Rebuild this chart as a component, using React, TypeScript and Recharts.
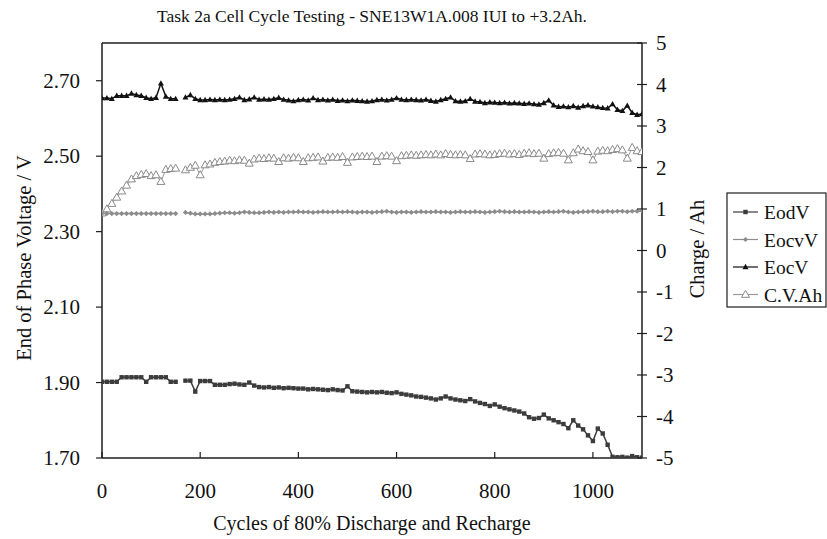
import React from "react";
import { ComposedChart, Line, XAxis, YAxis, ReferenceLine } from "recharts";

const cycles = [
  0, 10, 20, 30, 40, 50, 60, 70, 80, 90,
  100, 110, 120, 130, 140, 150, 160, 170, 180, 190,
  200, 210, 220, 230, 240, 250, 260, 270, 280, 290,
  300, 310, 320, 330, 340, 350, 360, 370, 380, 390,
  400, 410, 420, 430, 440, 450, 460, 470, 480, 490,
  500, 510, 520, 530, 540, 550, 560, 570, 580, 590,
  600, 610, 620, 630, 640, 650, 660, 670, 680, 690,
  700, 710, 720, 730, 740, 750, 760, 770, 780, 790,
  800, 810, 820, 830, 840, 850, 860, 870, 880, 890,
  900, 910, 920, 930, 940, 950, 960, 970, 980, 990,
  1000, 1010, 1020, 1030, 1040, 1050, 1060, 1070, 1080, 1090, 1100,
];

const eodV = [
  1.902, 1.902, 1.902, 1.902, 1.914, 1.914, 1.914, 1.914, 1.914, 1.902,
  1.914, 1.914, 1.914, 1.914, 1.902, 1.902, null, 1.905, 1.905, 1.876,
  1.904, 1.904, 1.904, 1.894, 1.894, 1.894, 1.896, 1.897, 1.895, 1.894,
  1.9, 1.892, 1.888, 1.887, 1.888, 1.886, 1.887, 1.885, 1.886, 1.885,
  1.884, 1.884, 1.882, 1.883, 1.882, 1.881, 1.88, 1.882, 1.88, 1.879,
  1.89, 1.877, 1.876, 1.875, 1.874, 1.875, 1.874, 1.875, 1.873, 1.872,
  1.874, 1.87, 1.868, 1.866, 1.863, 1.862, 1.86, 1.858, 1.855, 1.858,
  1.863, 1.858, 1.855, 1.853, 1.851, 1.856, 1.85, 1.846, 1.843, 1.838,
  1.842, 1.836, 1.832, 1.829, 1.826, 1.823, 1.818, 1.808, 1.804, 1.806,
  1.815, 1.805, 1.8, 1.795, 1.79, 1.779, 1.8, 1.786, 1.776, 1.76,
  1.745, 1.778, 1.765, 1.735, 1.703, 1.702, 1.703, 1.701, 1.705, 1.702, 1.701,
];

const eocvV = [
  2.348, 2.348, 2.348, 2.348, 2.348, 2.348, 2.348, 2.348, 2.348, 2.348,
  2.348, 2.348, 2.348, 2.348, 2.348, 2.348, null, 2.351, 2.349, 2.347,
  2.347, 2.347, 2.347, 2.348, 2.349, 2.35, 2.35, 2.349, 2.35, 2.352,
  2.351, 2.35, 2.35, 2.351, 2.352, 2.351, 2.352, 2.351, 2.352, 2.352,
  2.353, 2.352, 2.352, 2.351, 2.352, 2.353, 2.352, 2.352, 2.353, 2.352,
  2.353, 2.352, 2.351, 2.352, 2.352, 2.351, 2.352, 2.353, 2.354, 2.352,
  2.351, 2.352, 2.352, 2.351, 2.352, 2.353, 2.352, 2.352, 2.353, 2.352,
  2.352, 2.351, 2.352, 2.353, 2.352, 2.352, 2.353, 2.352, 2.351, 2.352,
  2.353, 2.354, 2.353, 2.352, 2.353, 2.352, 2.352, 2.353, 2.352, 2.351,
  2.352, 2.353, 2.352, 2.353, 2.354, 2.352, 2.351, 2.352, 2.353, 2.353,
  2.354, 2.353, 2.353, 2.354, 2.353, 2.354, 2.354, 2.353, 2.354, 2.354, 2.355,
];

const eocV = [
  2.654, 2.654, 2.652, 2.66, 2.66, 2.66, 2.666, 2.662, 2.66, 2.655,
  2.652, 2.655, 2.693, 2.658, 2.652, 2.652, null, 2.656, 2.662, 2.652,
  2.649, 2.649, 2.65, 2.649, 2.65, 2.649, 2.65, 2.652, 2.656, 2.649,
  2.651, 2.656, 2.65, 2.651, 2.65, 2.652, 2.655, 2.65, 2.648, 2.646,
  2.649, 2.65, 2.648, 2.654, 2.649, 2.65, 2.648, 2.65, 2.647, 2.648,
  2.646, 2.648, 2.647, 2.646, 2.645, 2.646, 2.649, 2.65, 2.648, 2.65,
  2.654, 2.65, 2.649, 2.65, 2.649, 2.648, 2.65, 2.647, 2.645, 2.649,
  2.652, 2.656, 2.646, 2.645, 2.646, 2.652, 2.645, 2.644, 2.641, 2.643,
  2.642, 2.641, 2.642, 2.64, 2.641, 2.64, 2.639, 2.64, 2.638, 2.637,
  2.641, 2.648, 2.635, 2.631, 2.632, 2.63, 2.633, 2.629, 2.633, 2.635,
  2.632, 2.63, 2.628, 2.627, 2.638, 2.623, 2.62, 2.634, 2.615, 2.61, 2.612,
];

const cvAh = [
  0.9, 1.0, 1.13, 1.28, 1.43, 1.57, 1.72, 1.8, 1.83, 1.85,
  1.8, 1.82, 1.66, 1.95, 1.97, 1.98, null, 1.94, 2.0, 2.05,
  1.82, 2.06, 2.08, 2.12, 2.14, 2.15, 2.17, 2.16, 2.18, 2.17,
  2.1, 2.2, 2.22, 2.21, 2.23, 2.22, 2.14, 2.23, 2.22, 2.24,
  2.23, 2.14, 2.23, 2.24, 2.25, 2.15, 2.24, 2.25, 2.24, 2.26,
  2.12, 2.25, 2.26, 2.27, 2.26, 2.27, 2.14, 2.27, 2.28, 2.27,
  2.16, 2.28, 2.29, 2.3, 2.29, 2.3, 2.31, 2.3, 2.32, 2.3,
  2.33, 2.31, 2.3, 2.31, 2.3, 2.21, 2.32, 2.33, 2.32, 2.3,
  2.31, 2.33, 2.34, 2.32, 2.33, 2.31, 2.34, 2.35, 2.33, 2.34,
  2.22, 2.33, 2.35, 2.36, 2.34, 2.18, 2.35, 2.44, 2.4, 2.38,
  2.18, 2.39, 2.41, 2.4, 2.43, 2.45, 2.42, 2.22, 2.48, 2.4, 2.38,
];

const xTicks = [0, 200, 400, 600, 800, 1000];
const leftTicks = [1.7, 1.9, 2.1, 2.3, 2.5, 2.7];
const rightTicks = [-5, -4, -3, -2, -1, 0, 1, 2, 3, 4, 5];

const titleText = "Task 2a Cell Cycle Testing - SNE13W1A.008 IUI to +3.2Ah.";
const xLabel = "Cycles of 80% Discharge and Recharge";
const leftLabel = "End of Phase Voltage / V";
const rightLabel = "Charge / Ah";

const data = cycles.map((c, i) => ({
  cycle: c,
  EodV: eodV[i],
  EocvV: eocvV[i],
  EocV: eocV[i],
  CVAh: cvAh[i],
}));

const FONT = "'Liberation Serif', 'Times New Roman', serif";
const AXIS = "#1e1e1e";
const TXT = "#111";

const COL = {
  EodV: "#3c3c3c",
  EocvV: "#8c8c8c",
  EocV: "#111111",
  CVAh: "#9a9a9a",
};

type Shape = "square" | "diamond" | "triangle" | "openTriangle";

function marker(shape: Shape, cx: number, cy: number, color: string, key?: string) {
  if (shape === "square") {
    return <rect key={key} x={cx - 2.2} y={cy - 2.2} width={4.4} height={4.4} fill={color} />;
  }
  if (shape === "diamond") {
    return (
      <path key={key} d={`M${cx},${cy - 2.6}L${cx + 2.6},${cy}L${cx},${cy + 2.6}L${cx - 2.6},${cy}Z`} fill={color} />
    );
  }
  if (shape === "triangle") {
    return (
      <path key={key} d={`M${cx},${cy - 3.2}L${cx + 3},${cy + 2.2}L${cx - 3},${cy + 2.2}Z`} fill={color} />
    );
  }
  return (
    <path
      key={key}
      d={`M${cx},${cy - 4.2}L${cx + 4},${cy + 2.8}L${cx - 4},${cy + 2.8}Z`}
      fill="#ffffff"
      stroke={color}
      strokeWidth={1}
    />
  );
}

function makeDot(shape: Shape, color: string) {
  return (props: any) => {
    const { cx, cy, index, value } = props;
    if (cx == null || cy == null || value == null || Number.isNaN(cy)) {
      return <g key={`e-${shape}-${index}`} />;
    }
    return marker(shape, cx, cy, color, `d-${shape}-${index}`);
  };
}

const XTick = (props: any) => {
  const { x, y, payload } = props;
  return (
    <g>
      <line x1={x} x2={x} y1={y} y2={y - 6} stroke={AXIS} strokeWidth={1.2} />
      <text x={x} y={y + 40} textAnchor="middle" fontSize={21} fill={TXT} fontFamily={FONT}>
        {payload.value}
      </text>
    </g>
  );
};

const LeftTick = (props: any) => {
  const { x, y, payload } = props;
  return (
    <g>
      <line x1={x - 6} x2={x} y1={y} y2={y} stroke={AXIS} strokeWidth={1.2} />
      <text x={x - 22} y={y + 7} textAnchor="end" fontSize={21} fill={TXT} fontFamily={FONT}>
        {Number(payload.value).toFixed(2)}
      </text>
    </g>
  );
};

const RightTick = (props: any) => {
  const { x, y, payload } = props;
  return (
    <g>
      <line x1={x - 5} x2={x + 5} y1={y} y2={y} stroke={AXIS} strokeWidth={1.2} />
      <text x={x + 14} y={y + 7} textAnchor="start" fontSize={21} fill={TXT} fontFamily={FONT}>
        {payload.value}
      </text>
    </g>
  );
};

const legendItems: { name: string; key: keyof typeof COL; shape: Shape }[] = [
  { name: "EodV", key: "EodV", shape: "square" },
  { name: "EocvV", key: "EocvV", shape: "diamond" },
  { name: "EocV", key: "EocV", shape: "triangle" },
  { name: "C.V.Ah", key: "CVAh", shape: "openTriangle" },
];

export default function App() {
  return (
    <div style={{ position: "absolute", left: 0, top: 0, width: 827, height: 539, background: "#fff" }}>
      <ComposedChart
        width={827}
        height={539}
        data={data}
        margin={{ top: 43, right: 145, bottom: 41, left: 0 }}
      >
        <XAxis
          dataKey="cycle"
          type="number"
          domain={[0, 1100]}
          ticks={xTicks}
          allowDataOverflow
          height={40}
          tickSize={0}
          tickMargin={0}
          tickLine={false}
          tick={<XTick />}
          axisLine={{ stroke: AXIS, strokeWidth: 1.5 }}
        />
        <YAxis
          yAxisId="left"
          domain={[1.7, 2.8]}
          ticks={leftTicks}
          allowDataOverflow
          width={102}
          tickSize={0}
          tickMargin={0}
          tickLine={false}
          tick={<LeftTick />}
          axisLine={{ stroke: AXIS, strokeWidth: 1.5 }}
        />
        <YAxis
          yAxisId="right"
          orientation="right"
          domain={[-5, 5]}
          ticks={rightTicks}
          allowDataOverflow
          width={40}
          tickSize={0}
          tickMargin={0}
          tickLine={false}
          tick={<RightTick />}
          axisLine={{ stroke: AXIS, strokeWidth: 1.5 }}
        />
        <ReferenceLine yAxisId="left" y={2.8} stroke={AXIS} strokeWidth={1.5} />
        <Line
          yAxisId="right"
          dataKey="CVAh"
          type="linear"
          stroke={COL.CVAh}
          strokeWidth={1}
          dot={makeDot("openTriangle", "#8a8a8a")}
          isAnimationActive={false}
          connectNulls={false}
        />
        <Line
          yAxisId="left"
          dataKey="EocvV"
          type="linear"
          stroke={COL.EocvV}
          strokeWidth={1.5}
          dot={makeDot("diamond", COL.EocvV)}
          isAnimationActive={false}
          connectNulls={false}
        />
        <Line
          yAxisId="left"
          dataKey="EocV"
          type="linear"
          stroke={COL.EocV}
          strokeWidth={1.5}
          dot={makeDot("triangle", COL.EocV)}
          isAnimationActive={false}
          connectNulls={false}
        />
        <Line
          yAxisId="left"
          dataKey="EodV"
          type="linear"
          stroke={COL.EodV}
          strokeWidth={1.5}
          dot={makeDot("square", COL.EodV)}
          isAnimationActive={false}
          connectNulls={false}
        />
      </ComposedChart>
      <svg
        width={827}
        height={539}
        style={{ position: "absolute", left: 0, top: 0, pointerEvents: "none" }}
      >
        <text x={372} y={22} textAnchor="middle" fontSize={17.5} fill={TXT} fontFamily={FONT}>
          {titleText}
        </text>
        <text x={372} y={530} textAnchor="middle" fontSize={20} fill={TXT} fontFamily={FONT}>
          {xLabel}
        </text>
        <text
          x={24}
          y={258}
          textAnchor="middle"
          dominantBaseline="central"
          fontSize={20.5}
          fill={TXT}
          fontFamily={FONT}
          transform="rotate(-90, 24, 258)"
        >
          {leftLabel}
        </text>
        <text
          x={697}
          y={249}
          textAnchor="middle"
          dominantBaseline="central"
          fontSize={20.5}
          fill={TXT}
          fontFamily={FONT}
          transform="rotate(-90, 697, 249)"
        >
          {rightLabel}
        </text>
        <rect x={727} y={193} width={99} height={114} fill="#fff" stroke={AXIS} strokeWidth={1.2} />
        {legendItems.map((it, i) => {
          const cy = 212 + i * 27.5;
          const color = it.key === "CVAh" ? "#8a8a8a" : COL[it.key];
          return (
            <g key={it.name}>
              <line x1={733} x2={758} y1={cy} y2={cy} stroke={COL[it.key]} strokeWidth={1.2} />
              {marker(it.shape, 745.5, cy, color)}
              <text x={764} y={cy + 7} fontSize={19.5} fill={TXT} fontFamily={FONT}>
                {it.name}
              </text>
            </g>
          );
        })}
      </svg>
    </div>
  );
}
